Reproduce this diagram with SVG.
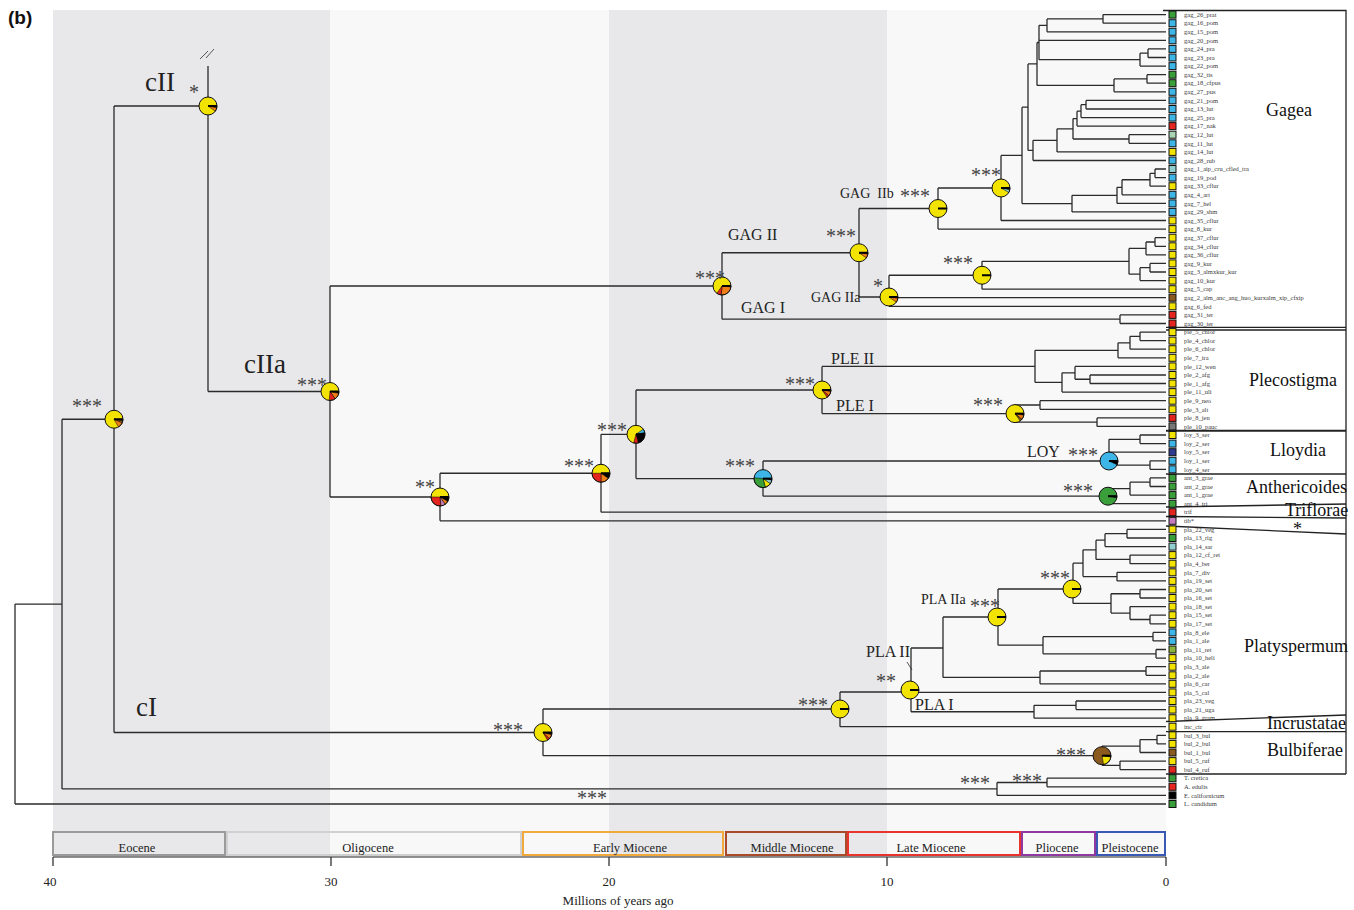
<svg xmlns="http://www.w3.org/2000/svg" width="1354" height="910" viewBox="0 0 1354 910">
<style>
.br{fill:none;stroke:#2b2b2b;stroke-width:1.3}
.tl{font-family:"Liberation Serif",serif;font-size:6.5px;fill:#3a3a3a}
.sq{stroke:#111;stroke-width:1}
.Y{fill:#f3e300}.B{fill:#3db5e6}.G{fill:#3a9e3a}.R{fill:#e3241f}.BR{fill:#8a5a1e}.O{fill:#ef7d18}
.PG{fill:#a9d4b4}.PC{fill:#8fcfd0}.DB{fill:#2e3a8f}.PK{fill:#c77bbf}.OL{fill:#8cb33c}.GR{fill:#777}.K{fill:#000}
.ast{font-family:"Liberation Serif",serif;font-size:20px;fill:#444}
.lab{font-family:"Liberation Serif",serif;fill:#222}
.cl{font-family:"Liberation Serif",serif;font-size:18px;fill:#111}
.ring{fill:none;stroke:#111;stroke-width:1}
.rad{stroke:#000;stroke-width:2}
.sl{stroke:#000;stroke-width:0.5}
.box{fill:none;stroke:#222;stroke-width:1.3}
.ep{fill:none;stroke-width:2}
.ept{font-family:"Liberation Serif",serif;font-size:12.5px;fill:#222;text-anchor:middle}
.ax{font-family:"Liberation Serif",serif;font-size:13px;fill:#222;text-anchor:middle}
</style>
<rect width="1354" height="910" fill="#fff"/>
<g id="bands">
<rect x="53" y="10" width="277" height="847" fill="#e8e8ea"/>
<rect x="330" y="10" width="279" height="847" fill="#f8f8f8"/>
<rect x="609" y="10" width="278" height="847" fill="#e8e8ea"/>
<rect x="887" y="10" width="279" height="847" fill="#f8f8f8"/>
</g>
<text x="8" y="24" font-family="Liberation Sans, sans-serif" font-weight="bold" font-size="19" fill="#111">(b)</text>
<g id="connectors" class="br">
<path d="M15,604.1V804M15,604.1H62M15,804H1166"/>
<path d="M62,419.25V788.95M62,419.25H114M62,788.95H997"/>
<path d="M997,782.5V795.4M997,782.5H1047M997,795.4H1166"/>
<path d="M1047,778.2V786.8M1047,778.2H1166M1047,786.8H1166"/>
<path d="M114,106V732.5M114,106H208M114,732.5H543"/>
<path d="M208,66V391.5M208,391.5H330"/>
<path d="M330,286V497M330,286H722M330,497H440"/>
<path d="M722,252.75V319.2M722,252.75H859M722,319.2H1120"/>
<path d="M1120,314.9V323.5M1120,314.9H1166M1120,323.5H1166"/>
<path d="M859,208.5V297M859,208.5H938M859,297H889"/>
<path d="M938,188V229.1M938,188H1001M938,229.1H1166"/>
<path d="M1001,155.4V220.5M1001,155.4H1022M1001,220.5H1166"/>
<path d="M1022,107.2V203.6M1022,107.2H1028M1022,203.6H1072"/>
<path d="M1028,63.95V150.4M1028,63.95H1037M1028,150.4H1033"/>
<path d="M1037,42.5V85.4M1037,42.5H1039M1037,85.4H1114"/>
<path d="M1039,25.35V59.65M1039,25.35H1047M1039,40.3H1166M1039,59.65H1140"/>
<path d="M1047,18.9V31.8M1047,18.9H1103M1047,31.8H1166"/>
<path d="M1103,14.6V23.2M1103,14.6H1166M1103,23.2H1166"/>
<path d="M1140,53.2V66.1M1140,53.2H1148M1140,66.1H1166"/>
<path d="M1148,48.9V57.5M1148,48.9H1166M1148,57.5H1166"/>
<path d="M1114,78.95V91.8M1114,78.95H1147M1114,91.8H1166"/>
<path d="M1147,74.7V83.2M1147,74.7H1166M1147,83.2H1166"/>
<path d="M1033,140.35V160.5M1033,140.35H1057M1033,160.5H1166"/>
<path d="M1057,128.8V151.9M1057,128.8H1073M1057,151.9H1166"/>
<path d="M1073,118.6V139M1073,118.6H1077M1073,139H1129"/>
<path d="M1077,111.15V126.1M1077,111.15H1081M1077,126.1H1166"/>
<path d="M1081,104.7V117.6M1081,104.7H1086M1081,117.6H1166"/>
<path d="M1086,100.4V109M1086,100.4H1166M1086,109H1166"/>
<path d="M1129,134.7V143.3M1129,134.7H1166M1129,143.3H1166"/>
<path d="M1072,195.35V211.9M1072,195.35H1117M1072,211.9H1166"/>
<path d="M1117,187.3V203.4M1117,187.3H1122M1117,203.4H1166"/>
<path d="M1122,179.75V194.8M1122,179.75H1150M1122,194.8H1166"/>
<path d="M1150,173.3V186.2M1150,173.3H1155M1150,186.2H1166"/>
<path d="M1155,169V177.6M1155,169H1166M1155,177.6H1166"/>
<path d="M889,275.25V306.3M889,275.25H982M889,297.7H1166M889,306.3H1166"/>
<path d="M982,261.3V289.2M982,261.3H1129M982,289.2H1166"/>
<path d="M1129,248.4V274.15M1129,248.4H1146M1129,274.15H1140"/>
<path d="M1146,242V254.8M1146,242H1155M1146,254.8H1166"/>
<path d="M1155,237.7V246.3M1155,237.7H1166M1155,246.3H1166"/>
<path d="M1140,267.7V280.6M1140,267.7H1150M1140,280.6H1166"/>
<path d="M1150,263.4V272M1150,263.4H1166M1150,272H1166"/>
<path d="M440,473.25V520.8M440,473.25H601M440,520.8H1166"/>
<path d="M601,434.3V512.2M601,434.3H636M601,512.2H1166"/>
<path d="M636,390V478.6M636,390H822M636,478.6H763"/>
<path d="M822,366.4V413.6M822,366.4H1035M822,413.6H1015"/>
<path d="M1035,350.3V382.45M1035,350.3H1118M1035,382.45H1062"/>
<path d="M1118,342.8V357.8M1118,342.8H1130M1118,357.8H1166"/>
<path d="M1130,336.35V349.2M1130,336.35H1140M1130,349.2H1166"/>
<path d="M1140,332.1V340.6M1140,332.1H1166M1140,340.6H1166"/>
<path d="M1062,372.8V392.1M1062,372.8H1075M1062,392.1H1166"/>
<path d="M1075,366.4V379.25M1075,366.4H1166M1075,379.25H1090"/>
<path d="M1090,375V383.5M1090,375H1166M1090,383.5H1166"/>
<path d="M1015,405V422.15M1015,405H1040M1015,422.15H1097"/>
<path d="M1040,400.7V409.3M1040,400.7H1166M1040,409.3H1166"/>
<path d="M1097,417.9V426.4M1097,417.9H1166M1097,426.4H1166"/>
<path d="M763,461V496.2M763,461H1109M763,496.2H1108"/>
<path d="M1109,439.3V465.05M1109,439.3H1140M1109,452.2H1166M1109,465.05H1150"/>
<path d="M1140,435V443.6M1140,435H1166M1140,443.6H1166"/>
<path d="M1150,460.8V469.3M1150,460.8H1166M1150,469.3H1166"/>
<path d="M1108,488.65V503.7M1108,488.65H1130M1108,503.7H1166"/>
<path d="M1130,482.2V495.1M1130,482.2H1150M1130,495.1H1166"/>
<path d="M1150,477.9V486.5M1150,477.9H1166M1150,486.5H1166"/>
<path d="M543,709V755.7M543,709H840M543,755.7H1102"/>
<path d="M840,692V726.7M840,692H911M840,726.7H1166"/>
<path d="M911,648V711.75M911,648H943M911,692.4H1166M911,711.75H1034"/>
<path d="M943,617V677.4M943,617H998M943,677.4H1040"/>
<path d="M1040,671V683.8M1040,671H1146M1040,683.8H1166"/>
<path d="M1146,666.7V675.3M1146,666.7H1166M1146,675.3H1166"/>
<path d="M998,589V645.2M998,589H1073M998,645.2H1043"/>
<path d="M1043,636.65V653.8M1043,636.65H1153M1043,653.8H1156"/>
<path d="M1153,632.4V640.9M1153,632.4H1166M1153,640.9H1166"/>
<path d="M1156,649.5V658.1M1156,649.5H1166M1156,658.1H1166"/>
<path d="M1073,563.2V603.4M1073,563.2H1083M1073,603.4H1111"/>
<path d="M1083,549.8V576.6M1083,549.8H1096M1083,576.6H1117"/>
<path d="M1096,540.15V559.4M1096,540.15H1105M1096,559.4H1130"/>
<path d="M1105,533.7V546.6M1105,533.7H1127M1105,546.6H1166"/>
<path d="M1127,529.4V538M1127,529.4H1166M1127,538H1166"/>
<path d="M1130,555.1V563.7M1130,555.1H1166M1130,563.7H1166"/>
<path d="M1117,572.3V580.9M1117,572.3H1166M1117,580.9H1166"/>
<path d="M1111,593.75V613.05M1111,593.75H1140M1111,613.05H1130"/>
<path d="M1140,589.5V598M1140,589.5H1166M1140,598H1166"/>
<path d="M1130,606.6V619.5M1130,606.6H1166M1130,619.5H1150"/>
<path d="M1150,615.2V623.8M1150,615.2H1166M1150,623.8H1166"/>
<path d="M1034,705.3V718.2M1034,705.3H1076M1034,718.2H1166"/>
<path d="M1076,701V709.6M1076,701H1166M1076,709.6H1166"/>
<path d="M1102,746.05V765.35M1102,746.05H1140M1102,765.35H1120"/>
<path d="M1140,739.6V752.5M1140,739.6H1157M1140,752.5H1166"/>
<path d="M1157,735.3V743.9M1157,735.3H1166M1157,743.9H1166"/>
<path d="M1120,761.1V769.6M1120,761.1H1166M1120,769.6H1166"/>
<path d="M200,59L208,51M206,58L214,49" stroke="#555" stroke-width="1"/>
<path d="M907,662L912,670" stroke-width="0.8"/>
</g>
<g id="pies">
<g id="n-crown" transform="translate(114,419.25)"><circle r="9" class="Y"/><path class="K sl" d="M0,0L9,0A9,9 0 0 1 8.86,1.56Z"/><path class="BR sl" d="M0,0L8.86,1.56A9,9 0 0 1 8.16,3.8Z"/><path class="O sl" d="M0,0L8.16,3.8A9,9 0 0 1 4.5,7.79Z"/><path class="rad" d="M0,0H9"/><circle r="9" class="ring"/></g>
<g id="n-cII" transform="translate(208,106)"><circle r="9" class="Y"/><path class="K sl" d="M0,0L9,0A9,9 0 0 1 8.8,1.87Z"/><path class="O sl" d="M0,0L8.8,1.87A9,9 0 0 1 7.37,5.16Z"/><path class="rad" d="M0,0H9"/><circle r="9" class="ring"/></g>
<g id="n-cIIa" transform="translate(330,391.5)"><circle r="9" class="Y"/><path class="K sl" d="M0,0L9,0A9,9 0 0 1 8.8,1.87Z"/><path class="O sl" d="M0,0L8.8,1.87A9,9 0 0 1 5.16,7.37Z"/><path class="R sl" d="M0,0L5.16,7.37A9,9 0 0 1 -0.78,8.97Z"/><path class="rad" d="M0,0H9"/><circle r="9" class="ring"/></g>
<g id="n-GAG" transform="translate(722,286)"><circle r="9" class="Y"/><path class="K sl" d="M0,0L9,0A9,9 0 0 1 8.95,0.94Z"/><path class="O sl" d="M0,0L8.95,0.94A9,9 0 0 1 -0.78,8.97Z"/><path class="R sl" d="M0,0L-0.78,8.97A9,9 0 0 1 -5.16,7.37Z"/><path class="rad" d="M0,0H9"/><circle r="9" class="ring"/></g>
<g id="n-GAGII" transform="translate(859,252.75)"><circle r="9" class="Y"/><path class="K sl" d="M0,0L9,0A9,9 0 0 1 8.91,1.25Z"/><path class="O sl" d="M0,0L8.91,1.25A9,9 0 0 1 7.37,5.16Z"/><path class="rad" d="M0,0H9"/><circle r="9" class="ring"/></g>
<g id="n-GAGIIa" transform="translate(889,297)"><circle r="9" class="Y"/><path class="K sl" d="M0,0L9,0A9,9 0 0 1 8.91,1.25Z"/><path class="O sl" d="M0,0L8.91,1.25A9,9 0 0 1 7.37,5.16Z"/><path class="rad" d="M0,0H9"/><circle r="9" class="ring"/></g>
<g id="n-GAGIIb" transform="translate(938,208.5)"><circle r="9" class="Y"/><path class="rad" d="M0,0H9"/><circle r="9" class="ring"/></g>
<g id="n-1001" transform="translate(1001,188)"><circle r="9" class="Y"/><path class="K sl" d="M0,0L9,0A9,9 0 0 1 8.8,1.87Z"/><path class="PC sl" d="M0,0L8.8,1.87A9,9 0 0 1 7.79,4.5Z"/><path class="rad" d="M0,0H9"/><circle r="9" class="ring"/></g>
<g id="n-982" transform="translate(982,275.25)"><circle r="9" class="Y"/><path class="rad" d="M0,0H9"/><circle r="9" class="ring"/></g>
<g id="n-440" transform="translate(440,497)"><circle r="9" class="Y"/><path class="K sl" d="M0,0L9,0A9,9 0 0 1 7.79,4.5Z"/><path class="O sl" d="M0,0L7.79,4.5A9,9 0 0 1 5.16,7.37Z"/><path class="PK sl" d="M0,0L5.16,7.37A9,9 0 0 1 0.78,8.97Z"/><path class="R sl" d="M0,0L0.78,8.97A9,9 0 0 1 -9,0Z"/><path class="rad" d="M0,0H9"/><circle r="9" class="ring"/></g>
<g id="n-601" transform="translate(601,473.25)"><circle r="9" class="Y"/><path class="K sl" d="M0,0L9,0A9,9 0 0 1 7.37,5.16Z"/><path class="O sl" d="M0,0L7.37,5.16A9,9 0 0 1 0,9Z"/><path class="R sl" d="M0,0L0,9A9,9 0 0 1 -9,0Z"/><path class="rad" d="M0,0H9"/><circle r="9" class="ring"/></g>
<g id="n-636" transform="translate(636,434.3)"><circle r="9" class="Y"/><path class="B sl" d="M0,0L7.37,-5.16A9,9 0 0 1 8.86,-1.56Z"/><path class="K sl" d="M0,0L8.86,-1.56A9,9 0 0 1 2.33,8.69Z"/><path class="R sl" d="M0,0L2.33,8.69A9,9 0 0 1 -2.33,8.69Z"/><path class="rad" d="M0,0H9"/><circle r="9" class="ring"/></g>
<g id="n-763" transform="translate(763,478.6)"><circle r="9" class="B"/><path class="K sl" d="M0,0L9,0A9,9 0 0 1 8.86,1.56Z"/><path class="PC sl" d="M0,0L8.86,1.56A9,9 0 0 1 7.37,5.16Z"/><path class="Y sl" d="M0,0L7.37,5.16A9,9 0 0 1 2.33,8.69Z"/><path class="G sl" d="M0,0L2.33,8.69A9,9 0 0 1 -8.97,-0.78Z"/><path class="rad" d="M0,0H9"/><circle r="9" class="ring"/></g>
<g id="n-PLE" transform="translate(822,390)"><circle r="9" class="Y"/><path class="K sl" d="M0,0L9,0A9,9 0 0 1 8.86,1.56Z"/><path class="O sl" d="M0,0L8.86,1.56A9,9 0 0 1 6.89,5.79Z"/><path class="R sl" d="M0,0L6.89,5.79A9,9 0 0 1 5.16,7.37Z"/><path class="rad" d="M0,0H9"/><circle r="9" class="ring"/></g>
<g id="n-PLEI" transform="translate(1015,413.6)"><circle r="9" class="Y"/><path class="K sl" d="M0,0L9,0A9,9 0 0 1 8.86,1.56Z"/><path class="O sl" d="M0,0L8.86,1.56A9,9 0 0 1 6.89,5.79Z"/><path class="BR sl" d="M0,0L6.89,5.79A9,9 0 0 1 5.16,7.37Z"/><path class="rad" d="M0,0H9"/><circle r="9" class="ring"/></g>
<g id="n-LOY" transform="translate(1109,461)"><circle r="9" class="B"/><path class="K sl" d="M0,0L9,0A9,9 0 0 1 8.16,3.8Z"/><path class="rad" d="M0,0H9"/><circle r="9" class="ring"/></g>
<g id="n-ANT" transform="translate(1108,496.2)"><circle r="9" class="G"/><path class="K sl" d="M0,0L9,0A9,9 0 0 1 8.86,1.56Z"/><path class="rad" d="M0,0H9"/><circle r="9" class="ring"/></g>
<g id="n-cI" transform="translate(543,732.5)"><circle r="9" class="Y"/><path class="K sl" d="M0,0L9,0A9,9 0 0 1 8.69,2.33Z"/><path class="O sl" d="M0,0L8.69,2.33A9,9 0 0 1 6.36,6.36Z"/><path class="R sl" d="M0,0L6.36,6.36A9,9 0 0 1 4.5,7.79Z"/><path class="rad" d="M0,0H9"/><circle r="9" class="ring"/></g>
<g id="n-840" transform="translate(840,709)"><circle r="9" class="Y"/><path class="rad" d="M0,0H9"/><circle r="9" class="ring"/></g>
<g id="n-PLAII" transform="translate(910,690)"><circle r="9" class="Y"/><path class="rad" d="M0,0H9"/><circle r="9" class="ring"/></g>
<g id="n-PLAIIa" transform="translate(997,617)"><circle r="9" class="Y"/><path class="rad" d="M0,0H9"/><circle r="9" class="ring"/></g>
<g id="n-1073" transform="translate(1072,589)"><circle r="9" class="Y"/><path class="rad" d="M0,0H9"/><circle r="9" class="ring"/></g>
<g id="n-BUL" transform="translate(1102,755.7)"><circle r="9" class="BR"/><path class="K sl" d="M0,0L9,0A9,9 0 0 1 8.91,1.25Z"/><path class="Y sl" d="M0,0L8.91,1.25A9,9 0 0 1 1.56,8.86Z"/><path class="rad" d="M0,0H9"/><circle r="9" class="ring"/></g>
</g>
<g id="support">
<text class="ast" x="72" y="413">***</text>
<text class="ast" x="189" y="98.5">*</text>
<text class="ast" x="297" y="391.5">***</text>
<text class="ast" x="695" y="284.5">***</text>
<text class="ast" x="826" y="242.5">***</text>
<text class="ast" x="873" y="292.5">*</text>
<text class="ast" x="900" y="202.5">***</text>
<text class="ast" x="943" y="269.5">***</text>
<text class="ast" x="971" y="181.5">***</text>
<text class="ast" x="415" y="493.5">**</text>
<text class="ast" x="564" y="472.5">***</text>
<text class="ast" x="597" y="436.5">***</text>
<text class="ast" x="725" y="472.5">***</text>
<text class="ast" x="785" y="390.5">***</text>
<text class="ast" x="973" y="411.5">***</text>
<text class="ast" x="1068" y="461.5">***</text>
<text class="ast" x="1063" y="497.5">***</text>
<text class="ast" x="970" y="612.5">***</text>
<text class="ast" x="1040" y="584.5">***</text>
<text class="ast" x="876" y="687.5">**</text>
<text class="ast" x="798" y="711.5">***</text>
<text class="ast" x="493" y="736.5">***</text>
<text class="ast" x="1056" y="761.5">***</text>
<text class="ast" x="960" y="789.5">***</text>
<text class="ast" x="1012" y="787.5">***</text>
<text class="ast" x="577" y="804.5">***</text>
</g>
<g id="clade-labels">
<text class="lab" x="145" y="91" font-size="27">cII</text>
<text class="lab" x="244" y="373" font-size="27">cIIa</text>
<text class="lab" x="136" y="716" font-size="27">cI</text>
<text class="lab" x="728" y="240" font-size="16">GAG II</text>
<text class="lab" x="741" y="313" font-size="16">GAG I</text>
<text class="lab" x="811" y="302" font-size="14">GAG IIa</text>
<text class="lab" x="840" y="197.5" font-size="14" xml:space="preserve">GAG  IIb</text>
<text class="lab" x="831" y="364" font-size="16">PLE II</text>
<text class="lab" x="836" y="411" font-size="16">PLE I</text>
<text class="lab" x="1027" y="457" font-size="16">LOY</text>
<text class="lab" x="921" y="604" font-size="14">PLA IIa</text>
<text class="lab" x="866" y="657" font-size="16">PLA II</text>
<text class="lab" x="915" y="710" font-size="16">PLA I</text>
</g>
<g id="clade-boxes" class="box">
<path d="M1163,10.5H1346V774"/>
<path d="M1166,327.3H1346M1166,330H1346"/>
<path d="M1166,430.7H1346" stroke-width="2"/>
<path d="M1166,474H1346"/>
<path d="M1166,507L1346,504"/>
<path d="M1166,516.5L1346,518"/>
<path d="M1166,526L1346,534"/>
<path d="M1166,721.5L1346,715"/>
<path d="M1166,731.7H1346"/>
<path d="M1166,774H1346"/>
</g>
<g id="group-names">
<text class="cl" x="1266" y="116">Gagea</text>
<text class="cl" x="1249" y="386">Plecostigma</text>
<text class="cl" x="1270" y="456">Lloydia</text>
<text class="cl" x="1246" y="493">Anthericoides</text>
<text class="cl" x="1285" y="515.5">Triflorae</text>
<text class="cl" x="1293" y="535" font-size="14">*</text>
<text class="cl" x="1244" y="652">Platyspermum</text>
<text class="cl" x="1267" y="729">Incrustatae</text>
<text class="cl" x="1267" y="756">Bulbiferae</text>
</g>
<g id="tips">
<g id="t0"><rect class="sq G" x="1169" y="11.1" width="7" height="7"/><text class="tl" x="1184" y="16.8">gag_26_prat</text></g>
<g id="t1"><rect class="sq B" x="1169" y="19.7" width="7" height="7"/><text class="tl" x="1184" y="25.4">gag_16_pom</text></g>
<g id="t2"><rect class="sq B" x="1169" y="28.3" width="7" height="7"/><text class="tl" x="1184" y="34">gag_15_pom</text></g>
<g id="t3"><rect class="sq B" x="1169" y="36.8" width="7" height="7"/><text class="tl" x="1184" y="42.5">gag_20_pom</text></g>
<g id="t4"><rect class="sq B" x="1169" y="45.4" width="7" height="7"/><text class="tl" x="1184" y="51.1">gag_24_pra</text></g>
<g id="t5"><rect class="sq B" x="1169" y="54" width="7" height="7"/><text class="tl" x="1184" y="59.7">gag_23_pra</text></g>
<g id="t6"><rect class="sq B" x="1169" y="62.6" width="7" height="7"/><text class="tl" x="1184" y="68.3">gag_22_pom</text></g>
<g id="t7"><rect class="sq G" x="1169" y="71.2" width="7" height="7"/><text class="tl" x="1184" y="76.9">gag_32_tis</text></g>
<g id="t8"><rect class="sq G" x="1169" y="79.7" width="7" height="7"/><text class="tl" x="1184" y="85.4">gag_18_cfpus</text></g>
<g id="t9"><rect class="sq B" x="1169" y="88.3" width="7" height="7"/><text class="tl" x="1184" y="94">gag_27_pus</text></g>
<g id="t10"><rect class="sq B" x="1169" y="96.9" width="7" height="7"/><text class="tl" x="1184" y="102.6">gag_21_pom</text></g>
<g id="t11"><rect class="sq B" x="1169" y="105.5" width="7" height="7"/><text class="tl" x="1184" y="111.2">gag_13_lut</text></g>
<g id="t12"><rect class="sq B" x="1169" y="114.1" width="7" height="7"/><text class="tl" x="1184" y="119.8">gag_25_pra</text></g>
<g id="t13"><rect class="sq R" x="1169" y="122.6" width="7" height="7"/><text class="tl" x="1184" y="128.3">gag_17_nak</text></g>
<g id="t14"><rect class="sq PG" x="1169" y="131.2" width="7" height="7"/><text class="tl" x="1184" y="136.9">gag_12_lut</text></g>
<g id="t15"><rect class="sq B" x="1169" y="139.8" width="7" height="7"/><text class="tl" x="1184" y="145.5">gag_11_lut</text></g>
<g id="t16"><rect class="sq Y" x="1169" y="148.4" width="7" height="7"/><text class="tl" x="1184" y="154.1">gag_14_lut</text></g>
<g id="t17"><rect class="sq B" x="1169" y="157" width="7" height="7"/><text class="tl" x="1184" y="162.7">gag_28_rub</text></g>
<g id="t18"><rect class="sq PC" x="1169" y="165.5" width="7" height="7"/><text class="tl" x="1184" y="171.2">gag_1_aip_cru_cfled_tra</text></g>
<g id="t19"><rect class="sq B" x="1169" y="174.1" width="7" height="7"/><text class="tl" x="1184" y="179.8">gag_19_pod</text></g>
<g id="t20"><rect class="sq Y" x="1169" y="182.7" width="7" height="7"/><text class="tl" x="1184" y="188.4">gag_33_cflur</text></g>
<g id="t21"><rect class="sq B" x="1169" y="191.3" width="7" height="7"/><text class="tl" x="1184" y="197">gag_4_art</text></g>
<g id="t22"><rect class="sq B" x="1169" y="199.9" width="7" height="7"/><text class="tl" x="1184" y="205.6">gag_7_hel</text></g>
<g id="t23"><rect class="sq B" x="1169" y="208.4" width="7" height="7"/><text class="tl" x="1184" y="214.1">gag_29_shm</text></g>
<g id="t24"><rect class="sq Y" x="1169" y="217" width="7" height="7"/><text class="tl" x="1184" y="222.7">gag_35_cflur</text></g>
<g id="t25"><rect class="sq Y" x="1169" y="225.6" width="7" height="7"/><text class="tl" x="1184" y="231.3">gag_8_kur</text></g>
<g id="t26"><rect class="sq Y" x="1169" y="234.2" width="7" height="7"/><text class="tl" x="1184" y="239.9">gag_37_cflur</text></g>
<g id="t27"><rect class="sq Y" x="1169" y="242.8" width="7" height="7"/><text class="tl" x="1184" y="248.5">gag_34_cflur</text></g>
<g id="t28"><rect class="sq Y" x="1169" y="251.3" width="7" height="7"/><text class="tl" x="1184" y="257">gag_36_cflur</text></g>
<g id="t29"><rect class="sq Y" x="1169" y="259.9" width="7" height="7"/><text class="tl" x="1184" y="265.6">gag_9_kur</text></g>
<g id="t30"><rect class="sq Y" x="1169" y="268.5" width="7" height="7"/><text class="tl" x="1184" y="274.2">gag_3_almxkur_kur</text></g>
<g id="t31"><rect class="sq Y" x="1169" y="277.1" width="7" height="7"/><text class="tl" x="1184" y="282.8">gag_10_kur</text></g>
<g id="t32"><rect class="sq Y" x="1169" y="285.7" width="7" height="7"/><text class="tl" x="1184" y="291.4">gag_5_cap</text></g>
<g id="t33"><rect class="sq BR" x="1169" y="294.2" width="7" height="7"/><text class="tl" x="1184" y="299.9">gag_2_alm_anc_ang_huo_kurxalm_xip_cfxip</text></g>
<g id="t34"><rect class="sq Y" x="1169" y="302.8" width="7" height="7"/><text class="tl" x="1184" y="308.5">gag_6_fed</text></g>
<g id="t35"><rect class="sq R" x="1169" y="311.4" width="7" height="7"/><text class="tl" x="1184" y="317.1">gag_31_ter</text></g>
<g id="t36"><rect class="sq R" x="1169" y="320" width="7" height="7"/><text class="tl" x="1184" y="325.7">gag_30_ter</text></g>
<g id="t37"><rect class="sq Y" x="1169" y="328.6" width="7" height="7"/><text class="tl" x="1184" y="334.3">ple_5_chlor</text></g>
<g id="t38"><rect class="sq Y" x="1169" y="337.1" width="7" height="7"/><text class="tl" x="1184" y="342.8">ple_4_chlor</text></g>
<g id="t39"><rect class="sq Y" x="1169" y="345.7" width="7" height="7"/><text class="tl" x="1184" y="351.4">ple_6_chlor</text></g>
<g id="t40"><rect class="sq Y" x="1169" y="354.3" width="7" height="7"/><text class="tl" x="1184" y="360">ple_7_ira</text></g>
<g id="t41"><rect class="sq Y" x="1169" y="362.9" width="7" height="7"/><text class="tl" x="1184" y="368.6">ple_12_wen</text></g>
<g id="t42"><rect class="sq Y" x="1169" y="371.5" width="7" height="7"/><text class="tl" x="1184" y="377.2">ple_2_afg</text></g>
<g id="t43"><rect class="sq Y" x="1169" y="380" width="7" height="7"/><text class="tl" x="1184" y="385.7">ple_1_afg</text></g>
<g id="t44"><rect class="sq Y" x="1169" y="388.6" width="7" height="7"/><text class="tl" x="1184" y="394.3">ple_11_uli</text></g>
<g id="t45"><rect class="sq Y" x="1169" y="397.2" width="7" height="7"/><text class="tl" x="1184" y="402.9">ple_9_neo</text></g>
<g id="t46"><rect class="sq Y" x="1169" y="405.8" width="7" height="7"/><text class="tl" x="1184" y="411.5">ple_3_alt</text></g>
<g id="t47"><rect class="sq R" x="1169" y="414.4" width="7" height="7"/><text class="tl" x="1184" y="420.1">ple_8_jen</text></g>
<g id="t48"><rect class="sq GR" x="1169" y="422.9" width="7" height="7"/><text class="tl" x="1184" y="428.6">ple_10_pauc</text></g>
<g id="t49"><rect class="sq Y" x="1169" y="431.5" width="7" height="7"/><text class="tl" x="1184" y="437.2">loy_3_ser</text></g>
<g id="t50"><rect class="sq B" x="1169" y="440.1" width="7" height="7"/><text class="tl" x="1184" y="445.8">loy_2_ser</text></g>
<g id="t51"><rect class="sq DB" x="1169" y="448.7" width="7" height="7"/><text class="tl" x="1184" y="454.4">loy_5_ser</text></g>
<g id="t52"><rect class="sq B" x="1169" y="457.3" width="7" height="7"/><text class="tl" x="1184" y="463">loy_1_ser</text></g>
<g id="t53"><rect class="sq B" x="1169" y="465.8" width="7" height="7"/><text class="tl" x="1184" y="471.5">loy_4_ser</text></g>
<g id="t54"><rect class="sq G" x="1169" y="474.4" width="7" height="7"/><text class="tl" x="1184" y="480.1">ant_3_grae</text></g>
<g id="t55"><rect class="sq G" x="1169" y="483" width="7" height="7"/><text class="tl" x="1184" y="488.7">ant_2_grae</text></g>
<g id="t56"><rect class="sq G" x="1169" y="491.6" width="7" height="7"/><text class="tl" x="1184" y="497.3">ant_1_grae</text></g>
<g id="t57"><rect class="sq G" x="1169" y="500.2" width="7" height="7"/><text class="tl" x="1184" y="505.9">ant_4_tri</text></g>
<g id="t58"><rect class="sq R" x="1169" y="508.7" width="7" height="7"/><text class="tl" x="1184" y="514.4">trif</text></g>
<g id="t59"><rect class="sq PK" x="1169" y="517.3" width="7" height="7"/><text class="tl" x="1184" y="523">tib*</text></g>
<g id="t60"><rect class="sq Y" x="1169" y="525.9" width="7" height="7"/><text class="tl" x="1184" y="531.6">pla_22_veg</text></g>
<g id="t61"><rect class="sq G" x="1169" y="534.5" width="7" height="7"/><text class="tl" x="1184" y="540.2">pla_13_rig</text></g>
<g id="t62"><rect class="sq PC" x="1169" y="543.1" width="7" height="7"/><text class="tl" x="1184" y="548.8">pla_14_sar</text></g>
<g id="t63"><rect class="sq Y" x="1169" y="551.6" width="7" height="7"/><text class="tl" x="1184" y="557.3">pla_12_cf_ret</text></g>
<g id="t64"><rect class="sq Y" x="1169" y="560.2" width="7" height="7"/><text class="tl" x="1184" y="565.9">pla_4_ber</text></g>
<g id="t65"><rect class="sq Y" x="1169" y="568.8" width="7" height="7"/><text class="tl" x="1184" y="574.5">pla_7_div</text></g>
<g id="t66"><rect class="sq Y" x="1169" y="577.4" width="7" height="7"/><text class="tl" x="1184" y="583.1">pla_19_set</text></g>
<g id="t67"><rect class="sq Y" x="1169" y="586" width="7" height="7"/><text class="tl" x="1184" y="591.7">pla_20_set</text></g>
<g id="t68"><rect class="sq Y" x="1169" y="594.5" width="7" height="7"/><text class="tl" x="1184" y="600.2">pla_16_set</text></g>
<g id="t69"><rect class="sq Y" x="1169" y="603.1" width="7" height="7"/><text class="tl" x="1184" y="608.8">pla_18_set</text></g>
<g id="t70"><rect class="sq Y" x="1169" y="611.7" width="7" height="7"/><text class="tl" x="1184" y="617.4">pla_15_set</text></g>
<g id="t71"><rect class="sq Y" x="1169" y="620.3" width="7" height="7"/><text class="tl" x="1184" y="626">pla_17_set</text></g>
<g id="t72"><rect class="sq B" x="1169" y="628.9" width="7" height="7"/><text class="tl" x="1184" y="634.6">pla_8_ele</text></g>
<g id="t73"><rect class="sq B" x="1169" y="637.4" width="7" height="7"/><text class="tl" x="1184" y="643.1">pla_1_ale</text></g>
<g id="t74"><rect class="sq OL" x="1169" y="646" width="7" height="7"/><text class="tl" x="1184" y="651.7">pla_11_ret</text></g>
<g id="t75"><rect class="sq Y" x="1169" y="654.6" width="7" height="7"/><text class="tl" x="1184" y="660.3">pla_10_heli</text></g>
<g id="t76"><rect class="sq Y" x="1169" y="663.2" width="7" height="7"/><text class="tl" x="1184" y="668.9">pla_3_ale</text></g>
<g id="t77"><rect class="sq Y" x="1169" y="671.8" width="7" height="7"/><text class="tl" x="1184" y="677.5">pla_2_ale</text></g>
<g id="t78"><rect class="sq Y" x="1169" y="680.3" width="7" height="7"/><text class="tl" x="1184" y="686">pla_6_car</text></g>
<g id="t79"><rect class="sq Y" x="1169" y="688.9" width="7" height="7"/><text class="tl" x="1184" y="694.6">pla_5_cal</text></g>
<g id="t80"><rect class="sq Y" x="1169" y="697.5" width="7" height="7"/><text class="tl" x="1184" y="703.2">pla_23_veg</text></g>
<g id="t81"><rect class="sq Y" x="1169" y="706.1" width="7" height="7"/><text class="tl" x="1184" y="711.8">pla_21_uga</text></g>
<g id="t82"><rect class="sq Y" x="1169" y="714.7" width="7" height="7"/><text class="tl" x="1184" y="720.4">pla_9_gram</text></g>
<g id="t83"><rect class="sq Y" x="1169" y="723.2" width="7" height="7"/><text class="tl" x="1184" y="728.9">inc_cir</text></g>
<g id="t84"><rect class="sq Y" x="1169" y="731.8" width="7" height="7"/><text class="tl" x="1184" y="737.5">bul_3_bul</text></g>
<g id="t85"><rect class="sq Y" x="1169" y="740.4" width="7" height="7"/><text class="tl" x="1184" y="746.1">bul_2_bul</text></g>
<g id="t86"><rect class="sq BR" x="1169" y="749" width="7" height="7"/><text class="tl" x="1184" y="754.7">bul_1_bul</text></g>
<g id="t87"><rect class="sq Y" x="1169" y="757.6" width="7" height="7"/><text class="tl" x="1184" y="763.3">bul_5_ruf</text></g>
<g id="t88"><rect class="sq R" x="1169" y="766.1" width="7" height="7"/><text class="tl" x="1184" y="771.8">bul_4_ruf</text></g>
<g id="t89"><rect class="sq G" x="1169" y="774.7" width="7" height="7"/><text class="tl" x="1184" y="780.4">T. cretica</text></g>
<g id="t90"><rect class="sq R" x="1169" y="783.3" width="7" height="7"/><text class="tl" x="1184" y="789">A. edulis</text></g>
<g id="t91"><rect class="sq K" x="1169" y="791.9" width="7" height="7"/><text class="tl" x="1184" y="797.6">E. californicum</text></g>
<g id="t92"><rect class="sq G" x="1169" y="800.5" width="7" height="7"/><text class="tl" x="1184" y="806.2">L. candidum</text></g>
</g>
<g id="timescale">
<rect class="ep" x="53" y="832" width="172" height="23" stroke="#9a9a9a"/>
<rect class="ep" x="227" y="832" width="294" height="23" stroke="#d0d0d0"/>
<rect class="ep" x="523" y="832" width="200" height="23" stroke="#f2a93b"/>
<rect class="ep" x="726" y="832" width="120" height="23" stroke="#a94a2a"/>
<rect class="ep" x="848" y="832" width="172" height="23" stroke="#e8332e"/>
<rect class="ep" x="1022" y="832" width="73" height="23" stroke="#8e3aa0"/>
<rect class="ep" x="1097" y="832" width="68" height="23" stroke="#3a59b5"/>
<text class="ept" x="137" y="852">Eocene</text>
<text class="ept" x="368" y="852">Oligocene</text>
<text class="ept" x="630" y="852">Early Miocene</text>
<text class="ept" x="792" y="852">Middle Miocene</text>
<text class="ept" x="931" y="852">Late Miocene</text>
<text class="ept" x="1057" y="852">Pliocene</text>
<text class="ept" x="1130" y="852">Pleistocene</text>
<path d="M53,857H1166M53,857V866M331,857V866M609,857V866M887,857V866M1166,857V866" stroke="#222" stroke-width="1.2" fill="none"/>
<text class="ax" x="50" y="886">40</text>
<text class="ax" x="331" y="886">30</text>
<text class="ax" x="609" y="886">20</text>
<text class="ax" x="887" y="886">10</text>
<text class="ax" x="1166" y="886">0</text>
<text class="ax" x="618" y="905" font-size="12">Millions of years ago</text>
</g>
</svg>
